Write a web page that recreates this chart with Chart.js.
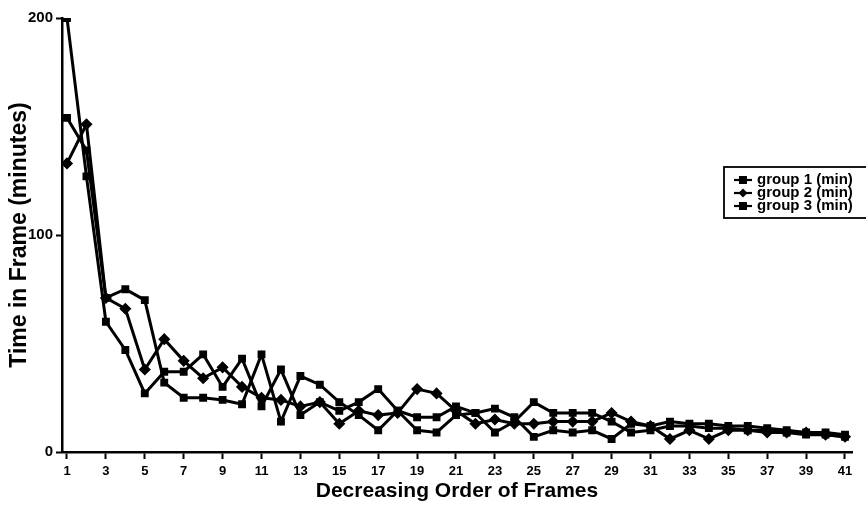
<!DOCTYPE html>
<html>
<head>
<meta charset="utf-8">
<script src="https://cdn.jsdelivr.net/npm/chart.js@4.4.1/dist/chart.umd.min.js"></script>
<style>
  html, body { margin: 0; padding: 0; background: #fff; }
  #wrap { width: 866px; height: 526px; overflow: hidden; }
</style>
</head>
<body>
<div id="wrap"><canvas id="frames" width="866" height="526"></canvas></div>
<script>
// Time in frame per group, frames sorted in decreasing order
const frames = [1, 2, 3, 4, 5, 6, 7, 8, 9, 10, 11, 12, 13, 14, 15, 16, 17, 18, 19, 20, 21,
                22, 23, 24, 25, 26, 27, 28, 29, 30, 31, 32, 33, 34, 35, 36, 37, 38, 39, 40, 41];
const group1 = [200, 127, 60, 47, 27, 37, 37, 45, 30, 43, 21, 38, 17, 23, 19, 23, 29, 19, 10, 9, 17,
                18, 20, 16, 7, 10, 9, 10, 6, 13, 12, 14, 13, 13, 12, 12, 11, 10, 9, 9, 8];
const group2 = [133, 151, 71, 66, 38, 52, 42, 34, 39, 30, 25, 24, 21, 23, 13, 19, 17, 18, 29, 27, 19,
                13, 15, 13, 13, 14, 14, 14, 18, 14, 12, 6, 10, 6, 10, 10, 9, 9, 9, 8, 7];
const group3 = [154, 139, 71, 75, 70, 32, 25, 25, 24, 22, 45, 14, 35, 31, 23, 17, 10, 19, 16, 16, 21,
                18, 9, 14, 23, 18, 18, 18, 14, 9, 10, 12, 12, 11, 11, 10, 10, 9, 8, 8, 7];
const yTicks = [0, 100, 200];
const xTicks = [1, 3, 5, 7, 9, 11, 13, 15, 17, 19, 21, 23, 25, 27, 29, 31, 33, 35, 37, 39, 41];
const seriesNames = ['group 1 (min)', 'group 2 (min)', 'group 3 (min)'];

const FONT = "'Liberation Sans', Arial, sans-serif";

function pts(arr) {
    return arr.map((v, i) => ({ x: frames[i], y: v }));
}

function makeSet(label, arr, style) {
    return {
        label: label,
        data: pts(arr),
        borderColor: '#000',
        backgroundColor: '#000',
        borderWidth: 3,
        pointStyle: style,
        pointRadius: style === 'rectRot' ? 5 : 4.5,
        pointBorderWidth: 1.5,
        tension: 0
    };
}

// legend box sits in the plot, running off the right edge like the scan
const boxLegend = {
    id: 'boxLegend',
    afterDraw(chart) {
        const ctx = chart.ctx;
        const x0 = 724, y0 = 167;
        ctx.save();
        ctx.strokeStyle = '#000';
        ctx.lineWidth = 1.8;
        ctx.fillStyle = '#fff';
        ctx.fillRect(x0, y0, 160, 51);
        ctx.strokeRect(x0, y0, 160, 51);
        ctx.font = 'bold 15px ' + FONT;
        ctx.textBaseline = 'middle';
        chart.data.datasets.forEach((ds, i) => {
            const y = y0 + 13 + i * 13;
            ctx.fillStyle = '#000';
            ctx.lineWidth = 2.2;
            ctx.beginPath();
            ctx.moveTo(734, y);
            ctx.lineTo(752, y);
            ctx.stroke();
            ctx.beginPath();
            if (ds.pointStyle === 'rectRot') {
                ctx.moveTo(743, y - 4.5); ctx.lineTo(747.5, y); ctx.lineTo(743, y + 4.5); ctx.lineTo(738.5, y);
            } else {
                ctx.rect(739, y - 4, 8, 8);
            }
            ctx.fill();
            ctx.fillText(seriesNames[i], 757, y);
        });
        ctx.restore();
    }
};

new Chart(document.getElementById('frames'), {
    type: 'line',
    data: {
        datasets: [
            makeSet(seriesNames[0], group1, 'rect'),
            makeSet(seriesNames[1], group2, 'rectRot'),
            makeSet(seriesNames[2], group3, 'rect')
        ]
    },
    options: {
        responsive: false,
        animation: false,
        layout: { padding: { top: 18, right: 14, left: 0, bottom: 0 } },
        plugins: {
            legend: { display: false },
            tooltip: { enabled: false }
        },
        scales: {
            x: {
                type: 'linear',
                min: 0.743,
                max: 41.36,
                afterFit: s => { s.height = 74; },
                afterBuildTicks: s => { s.ticks = xTicks.map(v => ({ value: v })); },
                ticks: {
                    color: '#000',
                    font: { family: FONT, size: 13, weight: 'bold' },
                    padding: 5,
                    maxRotation: 0,
                    autoSkip: false,
                    callback: v => String(v)
                },
                grid: { drawOnChartArea: false, drawTicks: true, tickLength: 7, tickWidth: 2, color: '#000' },
                border: { display: true, color: '#000', width: 2.5 },
                title: {
                    display: true,
                    text: 'Decreasing Order of Frames',
                    color: '#000',
                    font: { family: FONT, size: 21, weight: 'bold' },
                    padding: { top: 0, bottom: 22 }
                }
            },
            y: {
                min: 0,
                max: 200,
                afterFit: s => { s.width = 62; },
                afterBuildTicks: s => { s.ticks = yTicks.map(v => ({ value: v })); },
                ticks: {
                    color: '#000',
                    font: { family: FONT, size: 15, weight: 'bold' },
                    padding: 3,
                    callback: v => String(v)
                },
                grid: { drawOnChartArea: false, drawTicks: true, tickLength: 6, tickWidth: 2, color: '#000' },
                border: { display: true, color: '#000', width: 2.5 },
                title: {
                    display: true,
                    text: 'Time in Frame (minutes)',
                    color: '#000',
                    font: { family: FONT, size: 23, weight: 'bold' },
                    padding: { top: 6, bottom: 0 }
                }
            }
        }
    },
    plugins: [boxLegend]
});
</script>
</body>
</html>
